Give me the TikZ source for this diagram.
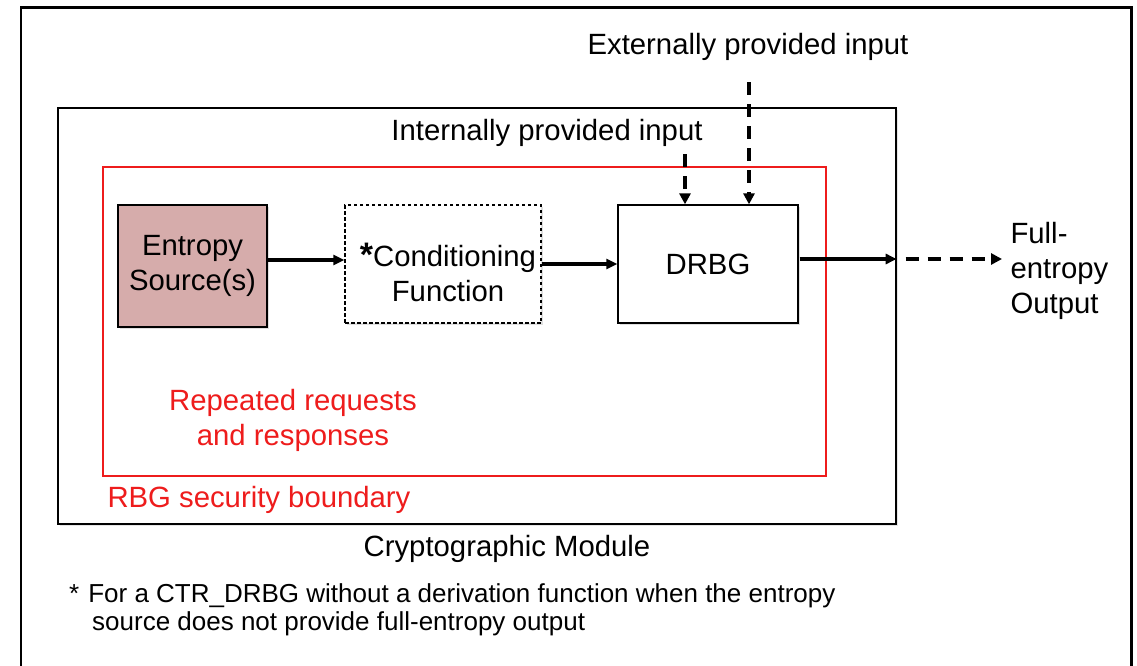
\documentclass[tikz,border=0pt]{standalone}
\usepackage{fontspec}
\setmainfont{Liberation Sans}
\usetikzlibrary{arrows.meta,shadows}
\definecolor{entropyfill}{RGB}{214,172,171}
\definecolor{boundred}{RGB}{238,28,28}
\tikzset{
  big/.style={font=\fontsize{29.3}{35}\selectfont},
  small/.style={font=\fontsize{26}{28}\selectfont},
  blockbox/.style={draw=black, line width=1.3pt, align=center, big, inner sep=0pt,
     drop shadow={shadow xshift=2pt, shadow yshift=-2pt, opacity=0.25}},
  arr/.style={line width=3.2pt, -{Triangle[length=11pt,width=10pt]}},
  dasharr/.style={line width=3.4pt, dash pattern=on 13pt off 9pt, -{Triangle[length=11pt,width=11pt]}},
}
\begin{document}
\begin{tikzpicture}[x=1pt,y=-1pt]
\useasboundingbox (0,0) rectangle (1137,666);
\fill[white] (0,0) rectangle (1137,666);

% outer frame, open at the bottom edge
\draw[line width=2.2pt] (21,670) -- (21,7.5) -- (1131.5,7.5) -- (1131.5,670);

% cryptographic module and RBG boundary
\node[draw=black, fill=white, line width=1.3pt, minimum width=838pt, minimum height=416pt, inner sep=0pt,
      drop shadow={shadow xshift=2pt, shadow yshift=-2pt, opacity=0.2}] (module) at (477,316) {};
\node[draw=boundred, line width=1.3pt, minimum width=723pt, minimum height=309pt, inner sep=0pt] (rbg) at (464.5,321.5) {};

% main blocks
\node[blockbox, fill=entropyfill, minimum width=149pt, minimum height=122pt] (src) at (192.5,266) {Entropy\\Source(s)};
\node[blockbox, fill=white, dash pattern=on 3.5pt off 2.5pt, minimum width=196pt, minimum height=118pt] (cond) at (443,264) {};
\node[big, align=center, inner sep=0pt] (condtxt) at (448,272)
  {\fontsize{34}{34}\selectfont\textbf{*}\fontsize{29.3}{35}\selectfont Conditioning\\Function};
\node[blockbox, fill=white, minimum width=180pt, minimum height=118pt] (drbg) at (708,264) {DRBG};

% texts
\node[big, anchor=center] (ext) at (748,47) {Externally provided input};
\node[big, anchor=center] (int) at (547,133) {Internally provided input};
\node[big, anchor=west, align=left] (out) at (1007,271) {Full-\\entropy\\Output};
\node[big, text=boundred, align=center] (rep) at (293,420) {Repeated requests\\and responses};
\node[big, text=boundred, anchor=west] (rbglabel) at (104,500) {RBG security boundary};
\node[big] (modlabel) at (507,549) {Cryptographic Module};
\node[small, anchor=north west, align=left, inner sep=0pt] (note) at (69,583)
  {*\hspace{9pt}For a CTR\_DRBG without a derivation function when the entropy\\
   \hspace{23pt}source does not provide full-entropy output};

% helper coordinates for the input arrows
\coordinate (xint) at (685,0);
\coordinate (xext) at (749,0);
\coordinate (outend) at (1002,0);

% connectors
\draw[arr] ([yshift=6pt]src.east) -- ([yshift=4pt]cond.west);
\draw[arr] (cond.east) -- (drbg.west);
\draw[arr] ([xshift=1pt, yshift=5pt]drbg.east) -- ([yshift=5pt]drbg.east -| module.east);
\draw[dasharr] ([xshift=9pt, yshift=5pt]drbg.east -| module.east) -- ([yshift=5pt]drbg.east -| outend);
\draw[dasharr] ([yshift=-4pt]int.south -| xint) -- (drbg.north -| xint);
\draw[dasharr] ([yshift=-18pt]ext.south -| xext) -- (drbg.north -| xext);
\end{tikzpicture}
\end{document}
